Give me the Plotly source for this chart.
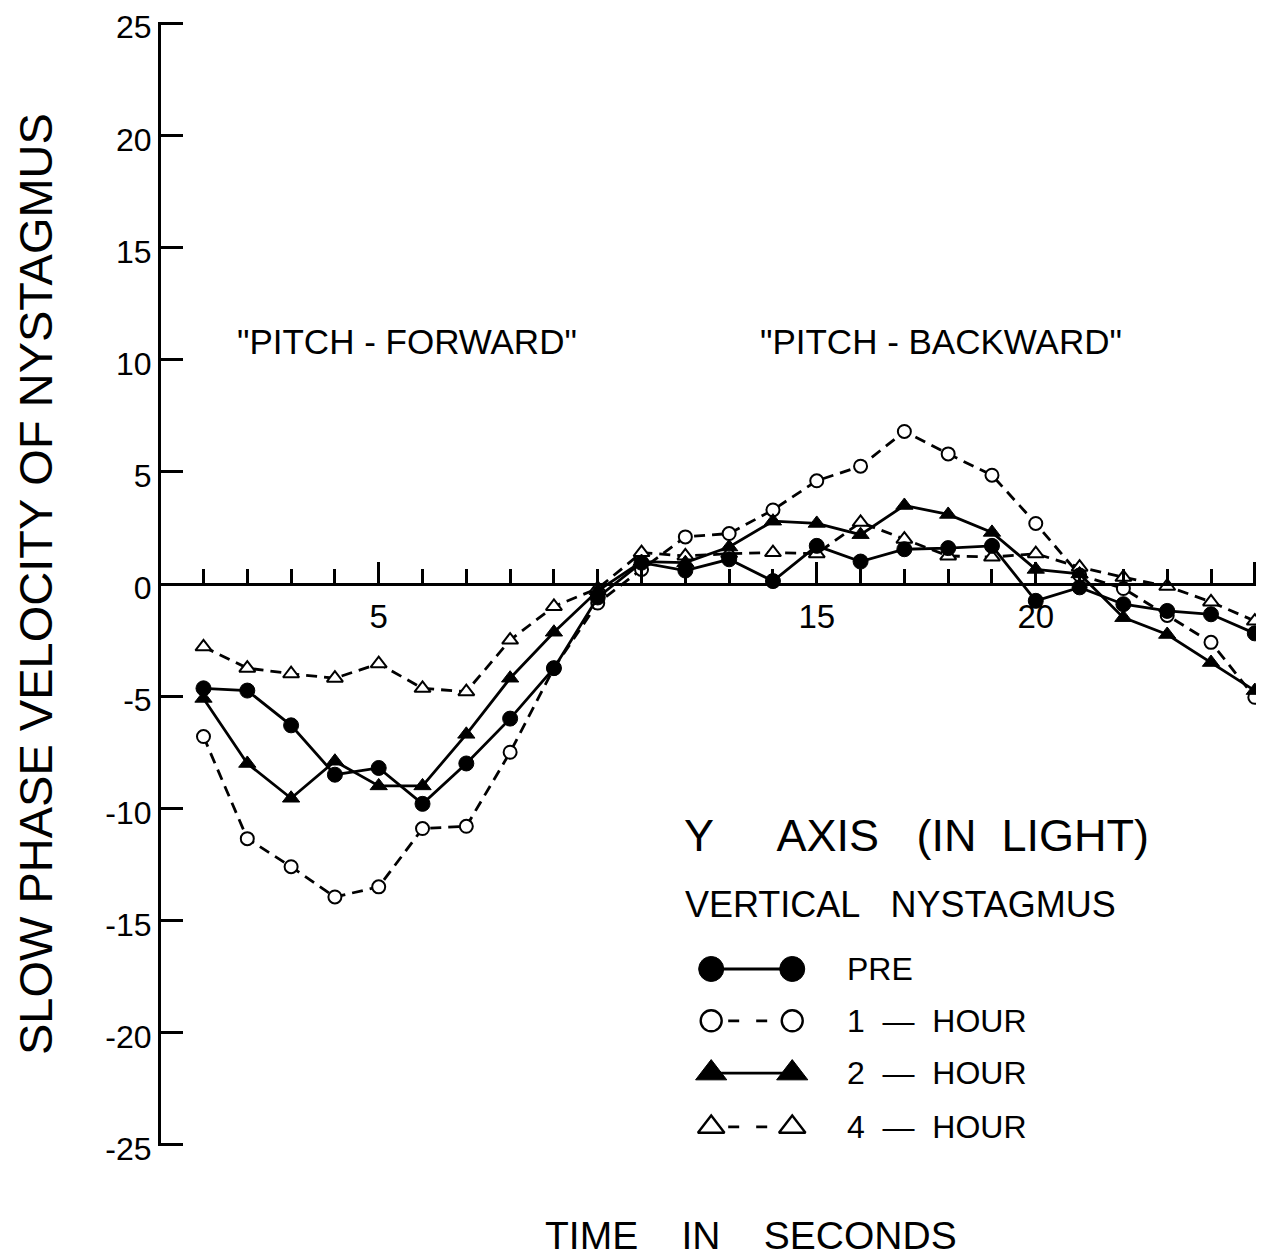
import plotly.graph_objects as go

# ---------------- data ----------------
TIME_S = list(range(1, 26))

PRE = [-4.65, -4.75, -6.3, -8.5, -8.2, -9.8, -8.0, -6.0, -3.75, -0.6,
       0.95, 0.6, 1.1, 0.13, 1.7, 1.0, 1.55, 1.6, 1.7, -0.75,
       -0.15, -0.9, -1.2, -1.35, -2.2]
HOUR_1 = [-6.8, -11.35, -12.6, -13.95, -13.5, -10.9, -10.8, -7.5, -3.75, -0.85,
          0.65, 2.1, 2.25, 3.3, 4.6, 5.25, 6.8, 5.8, 4.85, 2.7,
          0.4, -0.2, -1.4, -2.6, -5.05]
HOUR_2 = [-5.1, -8.0, -9.55, -7.9, -9.0, -9.0, -6.7, -4.2, -2.15, -0.3,
          1.0, 0.95, 1.65, 2.8, 2.7, 2.2, 3.5, 3.1, 2.3, 0.65,
          0.45, -1.5, -2.25, -3.5, -4.75]
HOUR_4 = [-2.8, -3.75, -4.0, -4.2, -3.55, -4.65, -4.8, -2.5, -1.0, -0.2,
          1.4, 1.25, 1.35, 1.4, 1.35, 2.75, 2.0, 1.25, 1.2, 1.35,
          0.75, 0.3, -0.1, -0.8, -1.65]

Y_TICKS = [25, 20, 15, 10, 5, 0, -5, -10, -15, -20, -25]
Y_TICK_TEXT = ["25", "20", "15", "10", "5", "0", "-5", "-10", "-15", "-20", "-25"]
X_MAJOR = [5, 10, 15, 20, 25]
X_MAJOR_TEXT = ["5", "", "15", "20", ""]
X_MINOR = list(range(1, 25))

LEGEND_LABELS = ["PRE", "1  \u2014  HOUR", "2  \u2014  HOUR", "4  \u2014  HOUR"]

# ---------------- style ----------------
FONT = "Liberation Sans, Arial, sans-serif"
BLK = "black"
DASH = "11px,7px"
NB = "\u00a0"

series = [
    # name, values, dash, symbol, fill, size, marker outline width
    ("4-HOUR", HOUR_4, DASH, "triangle-up", "white", 14, 2),
    ("1-HOUR", HOUR_1, DASH, "circle", "white", 13, 2),
    ("2-HOUR", HOUR_2, "solid", "triangle-up", BLK, 15, 1),
    ("PRE", PRE, "solid", "circle", BLK, 15, 1),
]

fig = go.Figure()
for name, vals, dash, sym, fill, size, mlw in series:
    fig.add_trace(go.Scatter(
        x=TIME_S, y=vals, name=name, mode="lines+markers",
        line=dict(color=BLK, width=2.8, dash=dash),
        marker=dict(symbol=sym, size=size, color=fill,
                    line=dict(color=BLK, width=mlw)),
        showlegend=False, cliponaxis=False,
    ))

# ---------------- legend keys (drawn in axis units) ----------------
LEG_X = [12.59, 14.44]
LEG_Y = [-17.16, -19.47, -21.8, -24.2]
LEG_TEXT_X = 15.65
LEG_DASH = "0px,17px,11px,17px,11px,200px"
legend_styles = [
    ("solid", "circle", BLK, 25, 1),
    (LEG_DASH, "circle", "white", 21, 2.4),
    ("solid", "triangle-up", BLK, 27, 1),
    (LEG_DASH, "triangle-up", "white", 23, 2.4),
]
for (dash, sym, fill, size, mlw), yy, lab in zip(legend_styles, LEG_Y, LEGEND_LABELS):
    fig.add_trace(go.Scatter(
        x=LEG_X, y=[yy, yy], mode="lines+markers",
        line=dict(color=BLK, width=2.8, dash=dash),
        marker=dict(symbol=sym, size=size, color=fill,
                    line=dict(color=BLK, width=mlw)),
        showlegend=False, cliponaxis=False, hoverinfo="skip",
    ))
    fig.add_annotation(x=LEG_TEXT_X, y=yy, xref="x", yref="y", text=lab,
                       showarrow=False, xanchor="left", yanchor="middle",
                       font=dict(family=FONT, size=32, color=BLK))

fig.add_annotation(x=11.92, y=-11.19, xref="x", yref="y",
                   text="Y" + NB * 5 + "AXIS" + NB * 3 + "(IN" + NB * 2 + "LIGHT)",
                   showarrow=False, xanchor="left", yanchor="middle",
                   font=dict(family=FONT, size=45, color=BLK))
fig.add_annotation(x=11.95, y=-14.27, xref="x", yref="y",
                   text="VERTICAL" + NB * 3 + "NYSTAGMUS",
                   showarrow=False, xanchor="left", yanchor="middle",
                   font=dict(family=FONT, size=36, color=BLK))

fig.add_annotation(x=5.65, y=10.83, xref="x", yref="y",
                   text="\"PITCH" + NB + "-" + NB + "FORWARD\"", showarrow=False,
                   xanchor="center", yanchor="middle",
                   font=dict(family=FONT, size=35, color=BLK))
fig.add_annotation(x=17.84, y=10.83, xref="x", yref="y",
                   text="\"PITCH" + NB + "-" + NB + "BACKWARD\"", showarrow=False,
                   xanchor="center", yanchor="middle",
                   font=dict(family=FONT, size=35, color=BLK))

# axis titles
fig.add_annotation(x=0, y=0.5, xref="paper", yref="paper", xshift=-126,
                   text="SLOW" + NB + "PHASE" + NB + "VELOCITY" + NB + "OF" + NB + "NYSTAGMUS",
                   textangle=-90,
                   showarrow=False, xanchor="center", yanchor="middle",
                   font=dict(family=FONT, size=47, color=BLK))
fig.add_annotation(x=0.538, y=0, xref="paper", yref="paper", yshift=-89,
                   text="TIME" + NB * 4 + "IN" + NB * 4 + "SECONDS",
                   showarrow=False, xanchor="center", yanchor="middle",
                   font=dict(family=FONT, size=39, color=BLK))

# page body has an 8px margin: figure size and margins compensate for it
fig.update_layout(
    width=1256, height=1250,
    margin=dict(l=153, r=7, t=14, b=112, autoexpand=False),
    paper_bgcolor="white", plot_bgcolor="white",
    xaxis=dict(
        range=[0.03, 25.05], anchor="free", position=0.5, automargin=False,
        showline=True, linewidth=3, linecolor=BLK,
        showgrid=False, zeroline=False,
        tickmode="array", tickvals=X_MAJOR, ticktext=X_MAJOR_TEXT,
        ticks="inside", ticklen=21, tickwidth=2.5, tickcolor=BLK,
        ticklabelstandoff=2,
        tickfont=dict(family=FONT, size=33, color=BLK),
        minor=dict(tickmode="array", tickvals=X_MINOR, ticks="inside",
                   ticklen=14, tickwidth=2.5, tickcolor=BLK, showgrid=False),
    ),
    yaxis=dict(
        range=[-25.05, 25.05], anchor="x", side="left", automargin=False,
        showline=True, linewidth=3, linecolor=BLK,
        showgrid=False, zeroline=False,
        tickmode="array", tickvals=Y_TICKS, ticktext=Y_TICK_TEXT,
        ticks="inside", ticklen=22, tickwidth=2.5, tickcolor=BLK,
        ticksuffix=NB + "\u2009", ticklabeloverflow="allow",
        ticklabelshift=4,
        tickfont=dict(family=FONT, size=32, color=BLK),
    ),
)

fig.write_html("out.html")
